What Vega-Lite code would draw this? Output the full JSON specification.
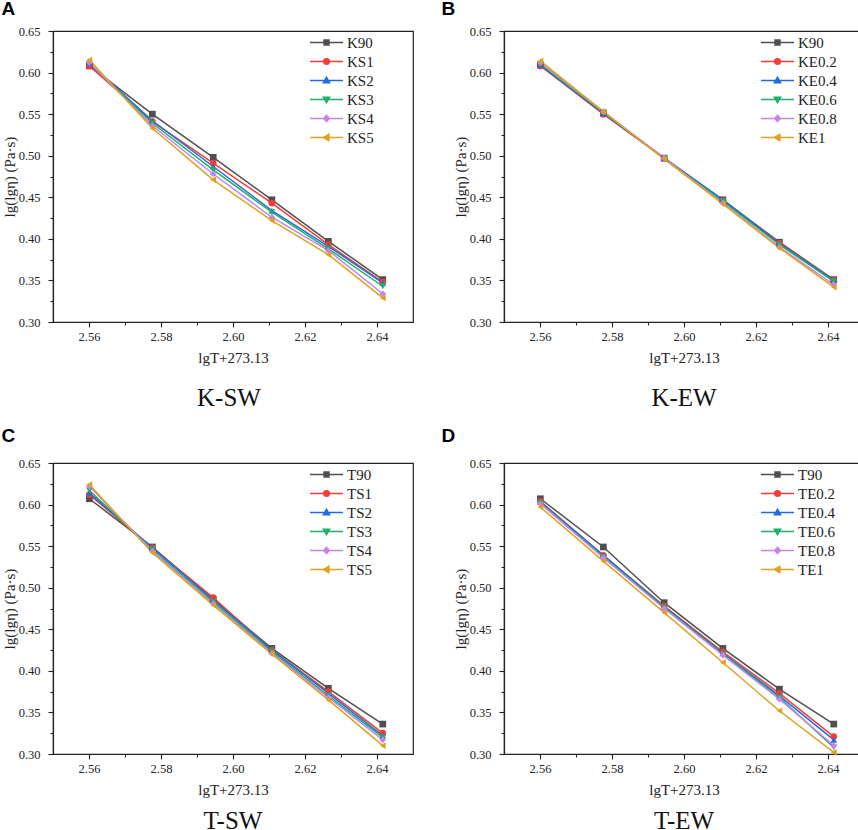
{
  "$schema": "https://vega.github.io/schema/vega-lite/v6.json",
  "description": "lg(lg eta) against lg(T+273.13) for four binder groups (K-SW, K-EW, T-SW, T-EW).",
  "background": "white",
  "padding": {"left": 1, "top": 0, "right": 0, "bottom": 0},
  "config": {
    "font": "Liberation Serif",
    "view": {"stroke": "#222222", "strokeWidth": 1.2},
    "axis": {
      "labelFont": "Liberation Serif",
      "labelFontSize": 12.5,
      "labelColor": "#222222",
      "titleFont": "Liberation Serif",
      "titleFontSize": 15,
      "titleFontWeight": "normal",
      "titleColor": "#222222",
      "domainColor": "#222222",
      "domainWidth": 1.2,
      "tickColor": "#222222",
      "tickWidth": 1.1,
      "grid": false
    },
    "legend": {
      "labelFont": "Liberation Serif",
      "labelFontSize": 15,
      "labelColor": "#222222",
      "symbolOpacity": 1
    }
  },
  "datasets": {
    "A": [
      {"s": "K90", "x": 2.5601, "v": 0.608}, {"s": "K90", "x": 2.5776, "v": 0.550}, {"s": "K90", "x": 2.5945, "v": 0.498},
      {"s": "K90", "x": 2.6108, "v": 0.447}, {"s": "K90", "x": 2.6265, "v": 0.397}, {"s": "K90", "x": 2.6416, "v": 0.351},
      {"s": "KS1", "x": 2.5601, "v": 0.608}, {"s": "KS1", "x": 2.5776, "v": 0.541}, {"s": "KS1", "x": 2.5945, "v": 0.491},
      {"s": "KS1", "x": 2.6108, "v": 0.443}, {"s": "KS1", "x": 2.6265, "v": 0.393}, {"s": "KS1", "x": 2.6416, "v": 0.348},
      {"s": "KS2", "x": 2.5601, "v": 0.611}, {"s": "KS2", "x": 2.5776, "v": 0.542}, {"s": "KS2", "x": 2.5945, "v": 0.487},
      {"s": "KS2", "x": 2.6108, "v": 0.434}, {"s": "KS2", "x": 2.6265, "v": 0.391}, {"s": "KS2", "x": 2.6416, "v": 0.347},
      {"s": "KS3", "x": 2.5601, "v": 0.611}, {"s": "KS3", "x": 2.5776, "v": 0.539}, {"s": "KS3", "x": 2.5945, "v": 0.483},
      {"s": "KS3", "x": 2.6108, "v": 0.432}, {"s": "KS3", "x": 2.6265, "v": 0.388}, {"s": "KS3", "x": 2.6416, "v": 0.343},
      {"s": "KS4", "x": 2.5601, "v": 0.612}, {"s": "KS4", "x": 2.5776, "v": 0.536}, {"s": "KS4", "x": 2.5945, "v": 0.478},
      {"s": "KS4", "x": 2.6108, "v": 0.426}, {"s": "KS4", "x": 2.6265, "v": 0.386}, {"s": "KS4", "x": 2.6416, "v": 0.334},
      {"s": "KS5", "x": 2.5601, "v": 0.615}, {"s": "KS5", "x": 2.5776, "v": 0.533}, {"s": "KS5", "x": 2.5945, "v": 0.471},
      {"s": "KS5", "x": 2.6108, "v": 0.422}, {"s": "KS5", "x": 2.6265, "v": 0.381}, {"s": "KS5", "x": 2.6416, "v": 0.329}
    ],
    "B": [
      {"s": "K90", "x": 2.5601, "v": 0.609}, {"s": "K90", "x": 2.5776, "v": 0.551}, {"s": "K90", "x": 2.5945, "v": 0.497},
      {"s": "K90", "x": 2.6108, "v": 0.447}, {"s": "K90", "x": 2.6265, "v": 0.396}, {"s": "K90", "x": 2.6416, "v": 0.351},
      {"s": "KE0.2", "x": 2.5601, "v": 0.608}, {"s": "KE0.2", "x": 2.5776, "v": 0.550}, {"s": "KE0.2", "x": 2.5945, "v": 0.497},
      {"s": "KE0.2", "x": 2.6108, "v": 0.446}, {"s": "KE0.2", "x": 2.6265, "v": 0.395}, {"s": "KE0.2", "x": 2.6416, "v": 0.350},
      {"s": "KE0.4", "x": 2.5601, "v": 0.609}, {"s": "KE0.4", "x": 2.5776, "v": 0.551}, {"s": "KE0.4", "x": 2.5945, "v": 0.497},
      {"s": "KE0.4", "x": 2.6108, "v": 0.447}, {"s": "KE0.4", "x": 2.6265, "v": 0.394}, {"s": "KE0.4", "x": 2.6416, "v": 0.350},
      {"s": "KE0.6", "x": 2.5601, "v": 0.610}, {"s": "KE0.6", "x": 2.5776, "v": 0.552}, {"s": "KE0.6", "x": 2.5945, "v": 0.497},
      {"s": "KE0.6", "x": 2.6108, "v": 0.445}, {"s": "KE0.6", "x": 2.6265, "v": 0.393}, {"s": "KE0.6", "x": 2.6416, "v": 0.349},
      {"s": "KE0.8", "x": 2.5601, "v": 0.612}, {"s": "KE0.8", "x": 2.5776, "v": 0.553}, {"s": "KE0.8", "x": 2.5945, "v": 0.497},
      {"s": "KE0.8", "x": 2.6108, "v": 0.443}, {"s": "KE0.8", "x": 2.6265, "v": 0.390}, {"s": "KE0.8", "x": 2.6416, "v": 0.345},
      {"s": "KE1", "x": 2.5601, "v": 0.614}, {"s": "KE1", "x": 2.5776, "v": 0.553}, {"s": "KE1", "x": 2.5945, "v": 0.496},
      {"s": "KE1", "x": 2.6108, "v": 0.442}, {"s": "KE1", "x": 2.6265, "v": 0.389}, {"s": "KE1", "x": 2.6416, "v": 0.342}
    ],
    "C": [
      {"s": "T90", "x": 2.5601, "v": 0.607}, {"s": "T90", "x": 2.5776, "v": 0.549}, {"s": "T90", "x": 2.5945, "v": 0.486},
      {"s": "T90", "x": 2.6108, "v": 0.427}, {"s": "T90", "x": 2.6265, "v": 0.379}, {"s": "T90", "x": 2.6416, "v": 0.336},
      {"s": "TS1", "x": 2.5601, "v": 0.612}, {"s": "TS1", "x": 2.5776, "v": 0.548}, {"s": "TS1", "x": 2.5945, "v": 0.488},
      {"s": "TS1", "x": 2.6108, "v": 0.425}, {"s": "TS1", "x": 2.6265, "v": 0.375}, {"s": "TS1", "x": 2.6416, "v": 0.325},
      {"s": "TS2", "x": 2.5601, "v": 0.614}, {"s": "TS2", "x": 2.5776, "v": 0.548}, {"s": "TS2", "x": 2.5945, "v": 0.485},
      {"s": "TS2", "x": 2.6108, "v": 0.425}, {"s": "TS2", "x": 2.6265, "v": 0.373}, {"s": "TS2", "x": 2.6416, "v": 0.322},
      {"s": "TS3", "x": 2.5601, "v": 0.617}, {"s": "TS3", "x": 2.5776, "v": 0.546}, {"s": "TS3", "x": 2.5945, "v": 0.483},
      {"s": "TS3", "x": 2.6108, "v": 0.423}, {"s": "TS3", "x": 2.6265, "v": 0.370}, {"s": "TS3", "x": 2.6416, "v": 0.320},
      {"s": "TS4", "x": 2.5601, "v": 0.622}, {"s": "TS4", "x": 2.5776, "v": 0.544}, {"s": "TS4", "x": 2.5945, "v": 0.481},
      {"s": "TS4", "x": 2.6108, "v": 0.421}, {"s": "TS4", "x": 2.6265, "v": 0.368}, {"s": "TS4", "x": 2.6416, "v": 0.317},
      {"s": "TS5", "x": 2.5601, "v": 0.624}, {"s": "TS5", "x": 2.5776, "v": 0.542}, {"s": "TS5", "x": 2.5945, "v": 0.479},
      {"s": "TS5", "x": 2.6108, "v": 0.420}, {"s": "TS5", "x": 2.6265, "v": 0.365}, {"s": "TS5", "x": 2.6416, "v": 0.310}
    ],
    "D": [
      {"s": "T90", "x": 2.5601, "v": 0.607}, {"s": "T90", "x": 2.5776, "v": 0.549}, {"s": "T90", "x": 2.5945, "v": 0.482},
      {"s": "T90", "x": 2.6108, "v": 0.427}, {"s": "T90", "x": 2.6265, "v": 0.378}, {"s": "T90", "x": 2.6416, "v": 0.336},
      {"s": "TE0.2", "x": 2.5601, "v": 0.604}, {"s": "TE0.2", "x": 2.5776, "v": 0.539}, {"s": "TE0.2", "x": 2.5945, "v": 0.478},
      {"s": "TE0.2", "x": 2.6108, "v": 0.423}, {"s": "TE0.2", "x": 2.6265, "v": 0.373}, {"s": "TE0.2", "x": 2.6416, "v": 0.321},
      {"s": "TE0.4", "x": 2.5601, "v": 0.603}, {"s": "TE0.4", "x": 2.5776, "v": 0.539}, {"s": "TE0.4", "x": 2.5945, "v": 0.477},
      {"s": "TE0.4", "x": 2.6108, "v": 0.421}, {"s": "TE0.4", "x": 2.6265, "v": 0.370}, {"s": "TE0.4", "x": 2.6416, "v": 0.317},
      {"s": "TE0.6", "x": 2.5601, "v": 0.602}, {"s": "TE0.6", "x": 2.5776, "v": 0.537}, {"s": "TE0.6", "x": 2.5945, "v": 0.476},
      {"s": "TE0.6", "x": 2.6108, "v": 0.420}, {"s": "TE0.6", "x": 2.6265, "v": 0.368}, {"s": "TE0.6", "x": 2.6416, "v": 0.308},
      {"s": "TE0.8", "x": 2.5601, "v": 0.601}, {"s": "TE0.8", "x": 2.5776, "v": 0.536}, {"s": "TE0.8", "x": 2.5945, "v": 0.475},
      {"s": "TE0.8", "x": 2.6108, "v": 0.419}, {"s": "TE0.8", "x": 2.6265, "v": 0.366}, {"s": "TE0.8", "x": 2.6416, "v": 0.310},
      {"s": "TE1", "x": 2.5601, "v": 0.597}, {"s": "TE1", "x": 2.5776, "v": 0.532}, {"s": "TE1", "x": 2.5945, "v": 0.470},
      {"s": "TE1", "x": 2.6108, "v": 0.410}, {"s": "TE1", "x": 2.6265, "v": 0.352}, {"s": "TE1", "x": 2.6416, "v": 0.302}
    ]
  },
  "spacing": 15,
  "resolve": {"scale": {"color": "independent", "shape": "independent", "fill": "independent", "stroke": "independent"}},
  "vconcat": [
    {
      "spacing": 27,
      "resolve": {"scale": {"color": "independent", "shape": "independent", "fill": "independent", "stroke": "independent"}},
      "hconcat": [
        {
          "title": {"text": "A", "anchor": "start", "frame": "bounds", "font": "Liberation Sans", "fontSize": 19, "fontWeight": "bold", "color": "#000000", "offset": 5},
          "resolve": {"scale": {"color": "independent", "shape": "independent", "fill": "independent", "stroke": "independent"}},
          "vconcat": [
            {
              "width": 360,
              "height": 291,
              "data": {"name": "A"},
              "title": {"text": "K-SW", "orient": "bottom", "font": "Liberation Serif", "fontSize": 25, "fontWeight": "normal", "color": "#111111", "offset": 20, "dx": -4},
              "resolve": {
                "scale": {"shape": "independent", "fill": "independent", "stroke": "independent"},
                "legend": {"shape": "independent", "fill": "independent", "stroke": "independent"},
                "axis": {"x": "independent", "y": "independent"}
              },
              "layer": [
                {
                  "mark": {"type": "line", "strokeWidth": 1.5},
                  "encoding": {
                    "x": {"field": "x", "type": "quantitative", "scale": {"domain": [2.55, 2.65]},
                      "axis": {"orient": "bottom", "values": [2.56, 2.58, 2.6, 2.62, 2.64], "format": ".2f", "title": "lgT+273.13", "tickSize": 5, "labelPadding": 3, "titlePadding": 8}},
                    "y": {"field": "v", "type": "quantitative", "scale": {"domain": [0.3, 0.65]},
                      "axis": {"orient": "left", "values": [0.3, 0.35, 0.4, 0.45, 0.5, 0.55, 0.6, 0.65], "format": ".2f", "title": "lg(lgη) (Pa·s)", "tickSize": 5, "labelPadding": 8, "titlePadding": 1}},
                    "color": {"field": "s", "type": "nominal", "legend": null,
                      "scale": {"domain": ["K90", "KS1", "KS2", "KS3", "KS4", "KS5"], "range": ["#4f4f4f", "#f53b3b", "#1a6fdf", "#21ad6b", "#c584e6", "#dea21e"]}}
                  }
                },
                {
                  "mark": {"type": "point", "filled": true, "opacity": 1, "size": 45},
                  "encoding": {
                    "x": {"field": "x", "type": "quantitative", "scale": {"domain": [2.55, 2.65]}, "axis": null},
                    "y": {"field": "v", "type": "quantitative", "scale": {"domain": [0.3, 0.65]}, "axis": null},
                    "color": {"field": "s", "type": "nominal", "legend": null,
                      "scale": {"domain": ["K90", "KS1", "KS2", "KS3", "KS4", "KS5"], "range": ["#4f4f4f", "#f53b3b", "#1a6fdf", "#21ad6b", "#c584e6", "#dea21e"]}},
                    "shape": {"field": "s", "type": "nominal", "legend": null,
                      "scale": {"domain": ["K90", "KS1", "KS2", "KS3", "KS4", "KS5"], "range": ["square", "circle", "triangle-up", "triangle-down", "diamond", "triangle-left"]}}
                  }
                },
                {
                  "transform": [{"filter": "false"}],
                  "mark": {"type": "point", "filled": true, "opacity": 1},
                  "encoding": {
                    "x": {"field": "x", "type": "quantitative", "scale": {"domain": [2.55, 2.65]},
                      "axis": {"orient": "bottom", "values": [2.57, 2.59, 2.61, 2.63], "labels": false, "domain": false, "tickSize": 3, "title": null}},
                    "y": {"field": "v", "type": "quantitative", "scale": {"domain": [0.3, 0.65]},
                      "axis": {"orient": "left", "values": [0.325, 0.375, 0.425, 0.475, 0.525, 0.575, 0.625], "labels": false, "domain": false, "tickSize": 3, "title": null}},
                    "fill": {"field": "s", "type": "nominal",
                      "scale": {"domain": ["K90", "KS1", "KS2", "KS3", "KS4", "KS5"], "range": ["#4f4f4f", "#f53b3b", "#1a6fdf", "#21ad6b", "#c584e6", "#dea21e"]},
                      "legend": {"orient": "none", "legendX": 256, "legendY": 3, "title": null, "symbolSize": 225, "symbolStrokeWidth": 1.5, "labelOffset": 21, "rowPadding": 2, "padding": 0}},
                    "stroke": {"field": "s", "type": "nominal",
                      "scale": {"domain": ["K90", "KS1", "KS2", "KS3", "KS4", "KS5"], "range": ["#4f4f4f", "#f53b3b", "#1a6fdf", "#21ad6b", "#c584e6", "#dea21e"]},
                      "legend": {"orient": "none", "legendX": 256, "legendY": 3, "title": null, "symbolSize": 225, "symbolStrokeWidth": 1.5, "labelOffset": 21, "rowPadding": 2, "padding": 0}},
                    "shape": {"field": "s", "type": "nominal",
                      "scale": {"domain": ["K90", "KS1", "KS2", "KS3", "KS4", "KS5"], "range": [
                        "M-1,0H3.4M0.87,-0.33H1.53V0.33H0.87Z",
                        "M-1,0H3.4M1.58,0A0.38,0.38,0,1,1,0.82,0A0.38,0.38,0,1,1,1.58,0Z",
                        "M-1,0H3.4M1.2,-0.42L1.62,0.3H0.78Z",
                        "M-1,0H3.4M1.2,0.42L1.62,-0.3H0.78Z",
                        "M-1,0H3.4M1.2,-0.42L1.58,0L1.2,0.42L0.82,0Z",
                        "M-1,0H3.4M0.78,0L1.52,-0.42V0.42Z"]},
                      "legend": {"orient": "none", "legendX": 256, "legendY": 3, "title": null, "symbolSize": 225, "symbolStrokeWidth": 1.5, "labelOffset": 21, "rowPadding": 2, "padding": 0}}
                  }
                }
              ]
            }
          ]
        },
        {
          "title": {"text": "B", "anchor": "start", "frame": "bounds", "font": "Liberation Sans", "fontSize": 19, "fontWeight": "bold", "color": "#000000", "offset": 5, "dx": -11},
          "resolve": {"scale": {"color": "independent", "shape": "independent", "fill": "independent", "stroke": "independent"}},
          "vconcat": [
            {
              "width": 360,
              "height": 291,
              "data": {"name": "B"},
              "title": {"text": "K-EW", "orient": "bottom", "font": "Liberation Serif", "fontSize": 25, "fontWeight": "normal", "color": "#111111", "offset": 20},
              "resolve": {
                "scale": {"shape": "independent", "fill": "independent", "stroke": "independent"},
                "legend": {"shape": "independent", "fill": "independent", "stroke": "independent"},
                "axis": {"x": "independent", "y": "independent"}
              },
              "layer": [
                {
                  "mark": {"type": "line", "strokeWidth": 1.5},
                  "encoding": {
                    "x": {"field": "x", "type": "quantitative", "scale": {"domain": [2.55, 2.65]},
                      "axis": {"orient": "bottom", "values": [2.56, 2.58, 2.6, 2.62, 2.64], "format": ".2f", "title": "lgT+273.13", "tickSize": 5, "labelPadding": 3, "titlePadding": 8}},
                    "y": {"field": "v", "type": "quantitative", "scale": {"domain": [0.3, 0.65]},
                      "axis": {"orient": "left", "values": [0.3, 0.35, 0.4, 0.45, 0.5, 0.55, 0.6, 0.65], "format": ".2f", "title": "lg(lgη) (Pa·s)", "tickSize": 5, "labelPadding": 8, "titlePadding": 1}},
                    "color": {"field": "s", "type": "nominal", "legend": null,
                      "scale": {"domain": ["K90", "KE0.2", "KE0.4", "KE0.6", "KE0.8", "KE1"], "range": ["#4f4f4f", "#f53b3b", "#1a6fdf", "#21ad6b", "#c584e6", "#dea21e"]}}
                  }
                },
                {
                  "mark": {"type": "point", "filled": true, "opacity": 1, "size": 45},
                  "encoding": {
                    "x": {"field": "x", "type": "quantitative", "scale": {"domain": [2.55, 2.65]}, "axis": null},
                    "y": {"field": "v", "type": "quantitative", "scale": {"domain": [0.3, 0.65]}, "axis": null},
                    "color": {"field": "s", "type": "nominal", "legend": null,
                      "scale": {"domain": ["K90", "KE0.2", "KE0.4", "KE0.6", "KE0.8", "KE1"], "range": ["#4f4f4f", "#f53b3b", "#1a6fdf", "#21ad6b", "#c584e6", "#dea21e"]}},
                    "shape": {"field": "s", "type": "nominal", "legend": null,
                      "scale": {"domain": ["K90", "KE0.2", "KE0.4", "KE0.6", "KE0.8", "KE1"], "range": ["square", "circle", "triangle-up", "triangle-down", "diamond", "triangle-left"]}}
                  }
                },
                {
                  "transform": [{"filter": "false"}],
                  "mark": {"type": "point", "filled": true, "opacity": 1},
                  "encoding": {
                    "x": {"field": "x", "type": "quantitative", "scale": {"domain": [2.55, 2.65]},
                      "axis": {"orient": "bottom", "values": [2.57, 2.59, 2.61, 2.63], "labels": false, "domain": false, "tickSize": 3, "title": null}},
                    "y": {"field": "v", "type": "quantitative", "scale": {"domain": [0.3, 0.65]},
                      "axis": {"orient": "left", "values": [0.325, 0.375, 0.425, 0.475, 0.525, 0.575, 0.625], "labels": false, "domain": false, "tickSize": 3, "title": null}},
                    "fill": {"field": "s", "type": "nominal",
                      "scale": {"domain": ["K90", "KE0.2", "KE0.4", "KE0.6", "KE0.8", "KE1"], "range": ["#4f4f4f", "#f53b3b", "#1a6fdf", "#21ad6b", "#c584e6", "#dea21e"]},
                      "legend": {"orient": "none", "legendX": 256, "legendY": 3, "title": null, "symbolSize": 225, "symbolStrokeWidth": 1.5, "labelOffset": 21, "rowPadding": 2, "padding": 0}},
                    "stroke": {"field": "s", "type": "nominal",
                      "scale": {"domain": ["K90", "KE0.2", "KE0.4", "KE0.6", "KE0.8", "KE1"], "range": ["#4f4f4f", "#f53b3b", "#1a6fdf", "#21ad6b", "#c584e6", "#dea21e"]},
                      "legend": {"orient": "none", "legendX": 256, "legendY": 3, "title": null, "symbolSize": 225, "symbolStrokeWidth": 1.5, "labelOffset": 21, "rowPadding": 2, "padding": 0}},
                    "shape": {"field": "s", "type": "nominal",
                      "scale": {"domain": ["K90", "KE0.2", "KE0.4", "KE0.6", "KE0.8", "KE1"], "range": [
                        "M-1,0H3.4M0.87,-0.33H1.53V0.33H0.87Z",
                        "M-1,0H3.4M1.58,0A0.38,0.38,0,1,1,0.82,0A0.38,0.38,0,1,1,1.58,0Z",
                        "M-1,0H3.4M1.2,-0.42L1.62,0.3H0.78Z",
                        "M-1,0H3.4M1.2,0.42L1.62,-0.3H0.78Z",
                        "M-1,0H3.4M1.2,-0.42L1.58,0L1.2,0.42L0.82,0Z",
                        "M-1,0H3.4M0.78,0L1.52,-0.42V0.42Z"]},
                      "legend": {"orient": "none", "legendX": 256, "legendY": 3, "title": null, "symbolSize": 225, "symbolStrokeWidth": 1.5, "labelOffset": 21, "rowPadding": 2, "padding": 0}}
                  }
                }
              ]
            }
          ]
        }
      ]
    },
    {
      "spacing": 27,
      "resolve": {"scale": {"color": "independent", "shape": "independent", "fill": "independent", "stroke": "independent"}},
      "hconcat": [
        {
          "title": {"text": "C", "anchor": "start", "frame": "bounds", "font": "Liberation Sans", "fontSize": 19, "fontWeight": "bold", "color": "#000000", "offset": 10},
          "resolve": {"scale": {"color": "independent", "shape": "independent", "fill": "independent", "stroke": "independent"}},
          "vconcat": [
            {
              "width": 360,
              "height": 291,
              "data": {"name": "C"},
              "title": {"text": "T-SW", "orient": "bottom", "font": "Liberation Serif", "fontSize": 25, "fontWeight": "normal", "color": "#111111", "offset": 11},
              "resolve": {
                "scale": {"shape": "independent", "fill": "independent", "stroke": "independent"},
                "legend": {"shape": "independent", "fill": "independent", "stroke": "independent"},
                "axis": {"x": "independent", "y": "independent"}
              },
              "layer": [
                {
                  "mark": {"type": "line", "strokeWidth": 1.5},
                  "encoding": {
                    "x": {"field": "x", "type": "quantitative", "scale": {"domain": [2.55, 2.65]},
                      "axis": {"orient": "bottom", "values": [2.56, 2.58, 2.6, 2.62, 2.64], "format": ".2f", "title": "lgT+273.13", "tickSize": 5, "labelPadding": 3, "titlePadding": 8}},
                    "y": {"field": "v", "type": "quantitative", "scale": {"domain": [0.3, 0.65]},
                      "axis": {"orient": "left", "values": [0.3, 0.35, 0.4, 0.45, 0.5, 0.55, 0.6, 0.65], "format": ".2f", "title": "lg(lgη) (Pa·s)", "tickSize": 5, "labelPadding": 8, "titlePadding": 1}},
                    "color": {"field": "s", "type": "nominal", "legend": null,
                      "scale": {"domain": ["T90", "TS1", "TS2", "TS3", "TS4", "TS5"], "range": ["#4f4f4f", "#f53b3b", "#1a6fdf", "#21ad6b", "#c584e6", "#dea21e"]}}
                  }
                },
                {
                  "mark": {"type": "point", "filled": true, "opacity": 1, "size": 45},
                  "encoding": {
                    "x": {"field": "x", "type": "quantitative", "scale": {"domain": [2.55, 2.65]}, "axis": null},
                    "y": {"field": "v", "type": "quantitative", "scale": {"domain": [0.3, 0.65]}, "axis": null},
                    "color": {"field": "s", "type": "nominal", "legend": null,
                      "scale": {"domain": ["T90", "TS1", "TS2", "TS3", "TS4", "TS5"], "range": ["#4f4f4f", "#f53b3b", "#1a6fdf", "#21ad6b", "#c584e6", "#dea21e"]}},
                    "shape": {"field": "s", "type": "nominal", "legend": null,
                      "scale": {"domain": ["T90", "TS1", "TS2", "TS3", "TS4", "TS5"], "range": ["square", "circle", "triangle-up", "triangle-down", "diamond", "triangle-left"]}}
                  }
                },
                {
                  "transform": [{"filter": "false"}],
                  "mark": {"type": "point", "filled": true, "opacity": 1},
                  "encoding": {
                    "x": {"field": "x", "type": "quantitative", "scale": {"domain": [2.55, 2.65]},
                      "axis": {"orient": "bottom", "values": [2.57, 2.59, 2.61, 2.63], "labels": false, "domain": false, "tickSize": 3, "title": null}},
                    "y": {"field": "v", "type": "quantitative", "scale": {"domain": [0.3, 0.65]},
                      "axis": {"orient": "left", "values": [0.325, 0.375, 0.425, 0.475, 0.525, 0.575, 0.625], "labels": false, "domain": false, "tickSize": 3, "title": null}},
                    "fill": {"field": "s", "type": "nominal",
                      "scale": {"domain": ["T90", "TS1", "TS2", "TS3", "TS4", "TS5"], "range": ["#4f4f4f", "#f53b3b", "#1a6fdf", "#21ad6b", "#c584e6", "#dea21e"]},
                      "legend": {"orient": "none", "legendX": 256, "legendY": 3, "title": null, "symbolSize": 225, "symbolStrokeWidth": 1.5, "labelOffset": 21, "rowPadding": 2, "padding": 0}},
                    "stroke": {"field": "s", "type": "nominal",
                      "scale": {"domain": ["T90", "TS1", "TS2", "TS3", "TS4", "TS5"], "range": ["#4f4f4f", "#f53b3b", "#1a6fdf", "#21ad6b", "#c584e6", "#dea21e"]},
                      "legend": {"orient": "none", "legendX": 256, "legendY": 3, "title": null, "symbolSize": 225, "symbolStrokeWidth": 1.5, "labelOffset": 21, "rowPadding": 2, "padding": 0}},
                    "shape": {"field": "s", "type": "nominal",
                      "scale": {"domain": ["T90", "TS1", "TS2", "TS3", "TS4", "TS5"], "range": [
                        "M-1,0H3.4M0.87,-0.33H1.53V0.33H0.87Z",
                        "M-1,0H3.4M1.58,0A0.38,0.38,0,1,1,0.82,0A0.38,0.38,0,1,1,1.58,0Z",
                        "M-1,0H3.4M1.2,-0.42L1.62,0.3H0.78Z",
                        "M-1,0H3.4M1.2,0.42L1.62,-0.3H0.78Z",
                        "M-1,0H3.4M1.2,-0.42L1.58,0L1.2,0.42L0.82,0Z",
                        "M-1,0H3.4M0.78,0L1.52,-0.42V0.42Z"]},
                      "legend": {"orient": "none", "legendX": 256, "legendY": 3, "title": null, "symbolSize": 225, "symbolStrokeWidth": 1.5, "labelOffset": 21, "rowPadding": 2, "padding": 0}}
                  }
                }
              ]
            }
          ]
        },
        {
          "title": {"text": "D", "anchor": "start", "frame": "bounds", "font": "Liberation Sans", "fontSize": 19, "fontWeight": "bold", "color": "#000000", "offset": 10, "dx": -11},
          "resolve": {"scale": {"color": "independent", "shape": "independent", "fill": "independent", "stroke": "independent"}},
          "vconcat": [
            {
              "width": 360,
              "height": 291,
              "data": {"name": "D"},
              "title": {"text": "T-EW", "orient": "bottom", "font": "Liberation Serif", "fontSize": 25, "fontWeight": "normal", "color": "#111111", "offset": 11},
              "resolve": {
                "scale": {"shape": "independent", "fill": "independent", "stroke": "independent"},
                "legend": {"shape": "independent", "fill": "independent", "stroke": "independent"},
                "axis": {"x": "independent", "y": "independent"}
              },
              "layer": [
                {
                  "mark": {"type": "line", "strokeWidth": 1.5},
                  "encoding": {
                    "x": {"field": "x", "type": "quantitative", "scale": {"domain": [2.55, 2.65]},
                      "axis": {"orient": "bottom", "values": [2.56, 2.58, 2.6, 2.62, 2.64], "format": ".2f", "title": "lgT+273.13", "tickSize": 5, "labelPadding": 3, "titlePadding": 8}},
                    "y": {"field": "v", "type": "quantitative", "scale": {"domain": [0.3, 0.65]},
                      "axis": {"orient": "left", "values": [0.3, 0.35, 0.4, 0.45, 0.5, 0.55, 0.6, 0.65], "format": ".2f", "title": "lg(lgη) (Pa·s)", "tickSize": 5, "labelPadding": 8, "titlePadding": 1}},
                    "color": {"field": "s", "type": "nominal", "legend": null,
                      "scale": {"domain": ["T90", "TE0.2", "TE0.4", "TE0.6", "TE0.8", "TE1"], "range": ["#4f4f4f", "#f53b3b", "#1a6fdf", "#21ad6b", "#c584e6", "#dea21e"]}}
                  }
                },
                {
                  "mark": {"type": "point", "filled": true, "opacity": 1, "size": 45},
                  "encoding": {
                    "x": {"field": "x", "type": "quantitative", "scale": {"domain": [2.55, 2.65]}, "axis": null},
                    "y": {"field": "v", "type": "quantitative", "scale": {"domain": [0.3, 0.65]}, "axis": null},
                    "color": {"field": "s", "type": "nominal", "legend": null,
                      "scale": {"domain": ["T90", "TE0.2", "TE0.4", "TE0.6", "TE0.8", "TE1"], "range": ["#4f4f4f", "#f53b3b", "#1a6fdf", "#21ad6b", "#c584e6", "#dea21e"]}},
                    "shape": {"field": "s", "type": "nominal", "legend": null,
                      "scale": {"domain": ["T90", "TE0.2", "TE0.4", "TE0.6", "TE0.8", "TE1"], "range": ["square", "circle", "triangle-up", "triangle-down", "diamond", "triangle-left"]}}
                  }
                },
                {
                  "transform": [{"filter": "false"}],
                  "mark": {"type": "point", "filled": true, "opacity": 1},
                  "encoding": {
                    "x": {"field": "x", "type": "quantitative", "scale": {"domain": [2.55, 2.65]},
                      "axis": {"orient": "bottom", "values": [2.57, 2.59, 2.61, 2.63], "labels": false, "domain": false, "tickSize": 3, "title": null}},
                    "y": {"field": "v", "type": "quantitative", "scale": {"domain": [0.3, 0.65]},
                      "axis": {"orient": "left", "values": [0.325, 0.375, 0.425, 0.475, 0.525, 0.575, 0.625], "labels": false, "domain": false, "tickSize": 3, "title": null}},
                    "fill": {"field": "s", "type": "nominal",
                      "scale": {"domain": ["T90", "TE0.2", "TE0.4", "TE0.6", "TE0.8", "TE1"], "range": ["#4f4f4f", "#f53b3b", "#1a6fdf", "#21ad6b", "#c584e6", "#dea21e"]},
                      "legend": {"orient": "none", "legendX": 256, "legendY": 3, "title": null, "symbolSize": 225, "symbolStrokeWidth": 1.5, "labelOffset": 21, "rowPadding": 2, "padding": 0}},
                    "stroke": {"field": "s", "type": "nominal",
                      "scale": {"domain": ["T90", "TE0.2", "TE0.4", "TE0.6", "TE0.8", "TE1"], "range": ["#4f4f4f", "#f53b3b", "#1a6fdf", "#21ad6b", "#c584e6", "#dea21e"]},
                      "legend": {"orient": "none", "legendX": 256, "legendY": 3, "title": null, "symbolSize": 225, "symbolStrokeWidth": 1.5, "labelOffset": 21, "rowPadding": 2, "padding": 0}},
                    "shape": {"field": "s", "type": "nominal",
                      "scale": {"domain": ["T90", "TE0.2", "TE0.4", "TE0.6", "TE0.8", "TE1"], "range": [
                        "M-1,0H3.4M0.87,-0.33H1.53V0.33H0.87Z",
                        "M-1,0H3.4M1.58,0A0.38,0.38,0,1,1,0.82,0A0.38,0.38,0,1,1,1.58,0Z",
                        "M-1,0H3.4M1.2,-0.42L1.62,0.3H0.78Z",
                        "M-1,0H3.4M1.2,0.42L1.62,-0.3H0.78Z",
                        "M-1,0H3.4M1.2,-0.42L1.58,0L1.2,0.42L0.82,0Z",
                        "M-1,0H3.4M0.78,0L1.52,-0.42V0.42Z"]},
                      "legend": {"orient": "none", "legendX": 256, "legendY": 3, "title": null, "symbolSize": 225, "symbolStrokeWidth": 1.5, "labelOffset": 21, "rowPadding": 2, "padding": 0}}
                  }
                }
              ]
            }
          ]
        }
      ]
    }
  ]
}
